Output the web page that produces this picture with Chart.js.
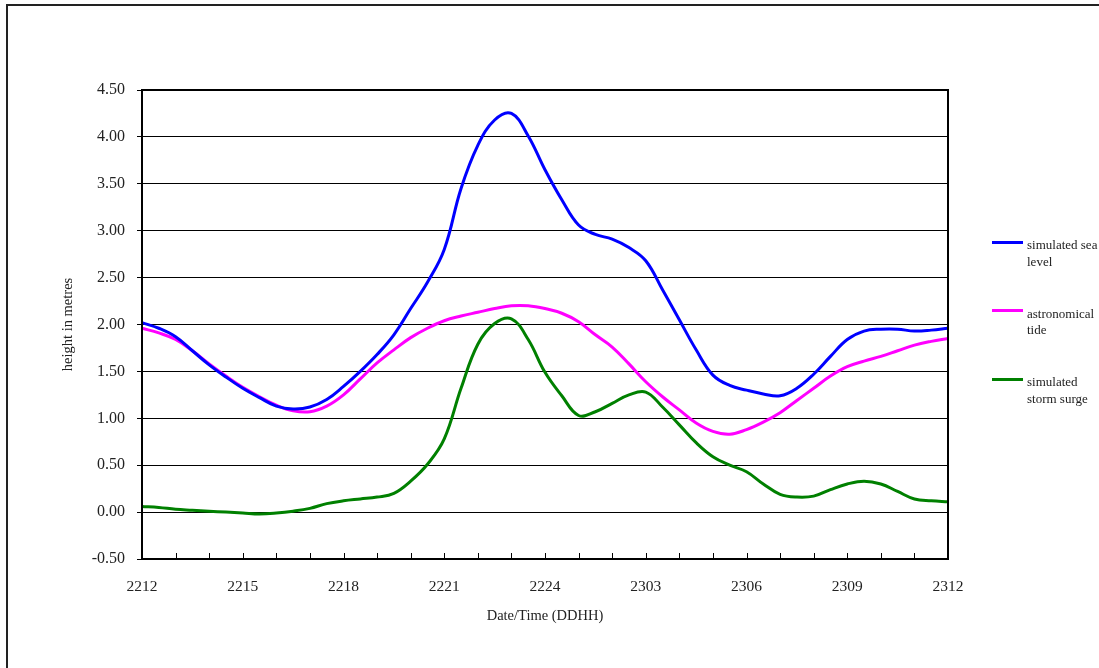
<!DOCTYPE html>
<html>
<head>
<meta charset="utf-8">
<script src="https://cdn.jsdelivr.net/npm/chart.js@4/dist/chart.umd.min.js"></script>
<style>
  body { margin: 0; background: #fff; }
  #wrap { position: relative; width: 1099px; height: 668px; overflow: hidden; }
  #frame { position: absolute; left: 6px; top: 4px; width: 1200px; height: 800px;
           border-left: 2px solid #222; border-top: 2px solid #222; }
  #legend { position: absolute; left: 992px; top: 237px;
            font-family: 'Liberation Serif', 'Times New Roman', serif; font-size: 13px; color: #222; }
  .item { position: relative; height: 68.5px; }
  .item .swatch { position: absolute; left: 0; top: 3.5px; width: 31px; height: 3px; }
  .item .label { position: absolute; left: 35px; top: 0; width: 72px; line-height: 16.5px; }
</style>
</head>
<body>
<div id="wrap">
  <div id="frame"></div>
  <canvas id="chart"></canvas>
  <div id="legend"></div>
</div>
<script>
// hours after 22/12 12:00
const times = [0, 0.5, 1, 1.5, 2, 2.5, 3, 3.5, 4, 4.5, 5, 5.5, 6, 6.5, 7, 7.5, 8, 8.5, 9, 9.5,
  10, 10.5, 11, 11.5, 12, 12.5, 13, 13.5, 14, 14.5, 15, 15.5, 16, 16.5, 17, 17.5, 18, 18.5, 19, 19.5,
  20, 20.5, 21, 21.5, 22, 22.5, 23, 23.5, 24];

const seaLevel = [2.02, 1.96, 1.87, 1.72, 1.57, 1.44, 1.32, 1.22, 1.13, 1.10,
  1.12, 1.20, 1.34, 1.50, 1.68, 1.89, 2.17, 2.45, 2.80, 3.45,
  3.91, 4.18, 4.25, 4.01, 3.65, 3.33, 3.06, 2.96, 2.91, 2.82,
  2.68, 2.37, 2.05, 1.73, 1.46, 1.35, 1.30, 1.26, 1.24, 1.32,
  1.47, 1.66, 1.84, 1.93, 1.95, 1.95, 1.93, 1.94, 1.96];

const tide = [1.96, 1.91, 1.84, 1.72, 1.58, 1.45, 1.33, 1.23, 1.14, 1.08,
  1.07, 1.13, 1.25, 1.42, 1.59, 1.73, 1.86, 1.96, 2.04, 2.09,
  2.13, 2.17, 2.20, 2.20, 2.17, 2.12, 2.03, 1.89, 1.76, 1.58,
  1.39, 1.23, 1.09, 0.95, 0.86, 0.83, 0.88, 0.96, 1.06, 1.19,
  1.32, 1.45, 1.55, 1.61, 1.66, 1.72, 1.78, 1.82, 1.85];

const surge = [0.06, 0.05, 0.03, 0.02, 0.01, 0.00, -0.01, -0.02, -0.01, 0.01,
  0.04, 0.09, 0.12, 0.14, 0.16, 0.20, 0.33, 0.51, 0.78, 1.32,
  1.79, 2.01, 2.06, 1.84, 1.49, 1.24, 1.03, 1.07, 1.16, 1.25,
  1.28, 1.12, 0.93, 0.74, 0.59, 0.50, 0.43, 0.30, 0.19, 0.16,
  0.17, 0.24, 0.30, 0.33, 0.30, 0.22, 0.14, 0.12, 0.11];

const xTickLabels = ['2212', '2215', '2218', '2221', '2224', '2303', '2306', '2309', '2312'];
const seriesNames = ['simulated sea level', 'astronomical tide', 'simulated storm surge'];
const seriesColors = ['#0000ff', '#ff00ff', '#008000'];

const serif = "'Liberation Serif', 'Times New Roman', serif";

function toPoints(vals) {
  return vals.map((v, i) => ({ x: times[i], y: v }));
}

// plot border + small inward ticks on the time axis
const framePlugin = {
  id: 'frame',
  afterDatasetsDraw(chart) {
    const { ctx, chartArea: a, scales: { x } } = chart;
    ctx.save();
    ctx.strokeStyle = '#000';
    ctx.lineWidth = 1;
    ctx.beginPath();
    x.ticks.forEach(t => {
      const px = Math.round(x.getPixelForValue(t.value)) + 0.5;
      ctx.moveTo(px, a.bottom);
      ctx.lineTo(px, a.bottom - 6);
    });
    ctx.stroke();
    ctx.lineWidth = 2;
    ctx.strokeRect(a.left, a.top, a.right - a.left, a.bottom - a.top);
    ctx.restore();
  }
};

const sets = [seaLevel, tide, surge].map((vals, i) => ({
  label: seriesNames[i],
  data: toPoints(vals),
  borderColor: seriesColors[i],
  backgroundColor: seriesColors[i],
  borderWidth: 3,
  pointRadius: 0,
  tension: 0.4,
  fill: false
}));

new Chart(document.getElementById('chart'), {
  type: 'line',
  data: { datasets: sets },
  options: {
    responsive: true,
    maintainAspectRatio: false,
    animation: false,
    layout: { padding: { left: 0, top: 90, right: 151, bottom: 0 } },
    plugins: { legend: { display: false }, tooltip: { enabled: false } },
    scales: {
      x: {
        type: 'linear',
        min: 0,
        max: 24,
        afterFit: s => { s.height = 109; },
        grid: { display: false, drawTicks: false },
        border: { display: false },
        ticks: {
          stepSize: 1,
          autoSkip: false,
          maxRotation: 0,
          padding: 19,
          color: '#222',
          font: { family: serif, size: 15.5 },
          callback: v => (v % 3 === 0 ? xTickLabels[v / 3] : '')
        },
        title: {
          display: true,
          text: 'Date/Time (DDHH)',
          color: '#222',
          font: { family: serif, size: 14.5 },
          padding: { top: 0, bottom: 43 }
        }
      },
      y: {
        min: -0.5,
        max: 4.5,
        afterFit: s => { s.width = 142; },
        grid: { color: '#000', lineWidth: 1, tickLength: 5 },
        border: { display: false },
        ticks: {
          stepSize: 0.5,
          padding: 12,
          color: '#222',
          font: { family: serif, size: 16 },
          callback: v => v.toFixed(2)
        },
        title: {
          display: true,
          text: 'height in metres',
          color: '#222',
          font: { family: serif, size: 14.5 },
          padding: { top: 59, bottom: 0 }
        }
      }
    }
  },
  plugins: [framePlugin]
});

// legend with wrapped labels, as in the original
const legend = document.getElementById('legend');
seriesNames.forEach((name, i) => {
  const item = document.createElement('div');
  item.className = 'item';
  item.innerHTML = '<div class="swatch" style="background:' + seriesColors[i] + '"></div>' +
    '<div class="label">' + name + '</div>';
  legend.appendChild(item);
});
</script>
</body>
</html>
